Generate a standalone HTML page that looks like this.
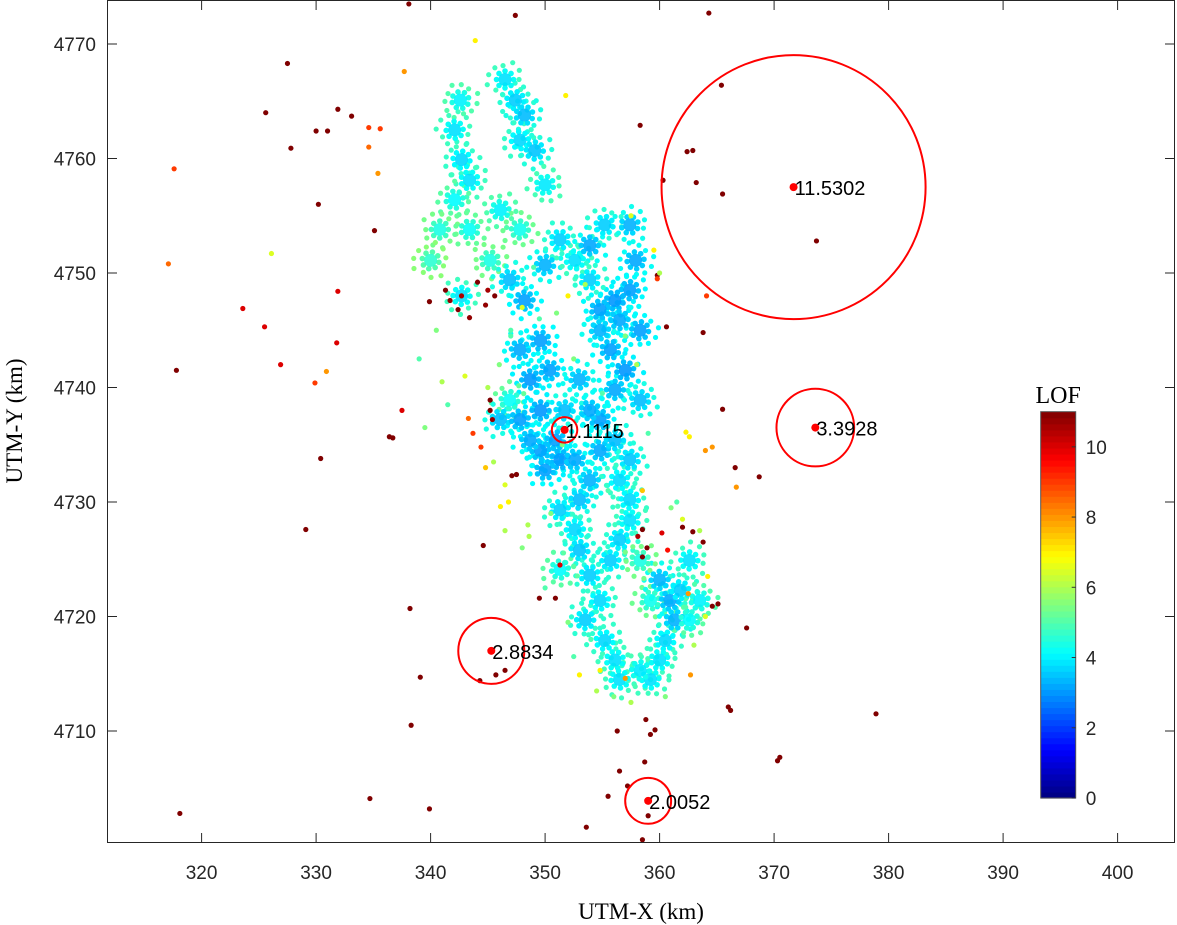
<!DOCTYPE html>
<html><head><meta charset="utf-8"><style>
html,body{margin:0;padding:0;background:#fff;}
svg{display:block;}
</style></head><body>
<svg id="chart" width="1177" height="925" viewBox="0 0 1177 925" xmlns="http://www.w3.org/2000/svg"></svg>
<script>
// ---- data ----
const xTicks = [320,330,340,350,360,370,380,390,400];
const yTicks = [4710,4720,4730,4740,4750,4760,4770];
const cbTicks = [0,2,4,6,8,10];
// dense cluster cores [x,y,lof]
const coreX = [346.5,347.4,348.2,347.8,349.1,350.0,342.6,342.1,342.7,343.4,342.1,340.8,340.0,343.4,346.1,347.8,345.2,346.9,348.2,350.0,351.3,352.6,353.9,355.2,
 357.4,357.9,357.4,356.1,354.8,356.5,358.3,355.7,357.0,356.1,358.3,353.9,354.8,
 347.8,349.6,350.4,348.7,346.9,346.1,347.8,349.6,350.9,351.3,349.6,348.7,350.0,352.6,353.9,353.0,354.8,354.8,356.1,357.4,356.5,353.0,351.7,353.9,
 351.3,352.6,353.0,353.9,354.8,353.5,355.2,356.1,356.5,357.4,357.4,359.2,360.0,360.9,361.3,361.8,362.6,360.5,360.0,359.2,358.3,362.6,363.5,355.7,356.5,358.3,351.3,342.7];
const coreY = [4766.9,4765.1,4763.8,4761.6,4760.7,4757.7,4765.1,4762.5,4759.9,4758.1,4756.4,4753.8,4751.1,4753.8,4755.5,4753.8,4751.1,4749.4,4747.6,4750.7,4752.9,4751.1,4752.4,4754.2,
 4754.2,4751.1,4748.5,4747.6,4746.8,4745.9,4745.0,4743.3,4741.5,4739.8,4738.9,4749.4,4745.0,
 4743.3,4744.1,4741.5,4740.7,4738.9,4737.2,4737.2,4738.0,4735.4,4733.7,4734.5,4735.4,4732.8,4733.7,4731.9,4730.2,4737.2,4734.5,4735.4,4733.7,4731.9,4740.7,4738.0,4738.0,
 4729.3,4727.6,4725.8,4723.6,4721.4,4719.7,4717.9,4716.2,4714.5,4730.2,4728.4,4721.4,4723.2,4721.4,4719.7,4722.3,4724.9,4717.9,4716.2,4714.5,4715.3,4719.7,4721.4,4724.9,4726.7,4724.9,4724.1,4748.0];
const coreV = [4.0,3.8,3.6,3.9,3.7,4.1,4.2,4.0,3.9,4.0,4.3,4.6,4.8,4.4,4.2,4.5,4.6,3.6,3.3,3.5,3.8,4.0,3.4,3.8,
 3.5,3.4,3.3,3.2,3.3,3.4,3.3,3.3,3.2,3.4,3.6,3.8,3.5,
 3.4,3.3,3.3,3.2,4.4,3.6,3.3,3.2,3.3,3.2,3.3,3.4,3.3,3.4,3.5,3.6,3.3,3.4,3.6,3.7,3.9,3.5,3.6,3.4,
 3.8,3.9,3.7,3.8,3.9,3.8,3.9,4.0,4.0,3.9,4.0,4.5,3.5,3.4,3.5,3.8,4.0,3.9,4.0,4.0,4.1,4.3,4.2,3.8,3.8,4.6,4.3,4.0];
// scattered points [x,y,lof]
const ptX = [338.1,347.4,364.3,327.5,325.6,331.9,333.1,330.0,331.0,327.8,330.2,335.1,365.4,358.3,362.9,362.4,363.2,365.5,360.3,373.7,317.8,336.4,336.7,330.4,329.1,338.2,339.1,338.3,318.1,334.7,339.9,353.6,358.5,355.5,357.2,359.0,358.7,359.2,359.6,356.3,370.5,370.3,378.9,366.0,366.2,365.1,364.6,367.6,366.6,368.7,365.5,363.8,360.6,359.8,346.5,345.7,344.3,344.6,349.5,350.9,347.5,347.1,
 341.7,342.4,342.7,341.3,343.4,339.9,344.1,345.0,345.6,344.8,345.2,345.2,345.4,
 358.5,360.2,360.7,358.9,362.0,362.9,363.8,358.5,358.1,
 317.6,317.1,326.1,323.6,325.5,326.9,329.9,330.9,331.8,331.9,334.6,335.6,335.4,334.6,337.7,343.9,351.8,337.5,366.7,364.0,364.6,362.3,362.6,359.8,364.1,353.0,354.8,357.0,362.7,362.5,351.3,343.7,343.3,344.4,346.8,346.1,
 345.0,346.0,347.0,348.0,352.0,353.5,351.0,349.0,357.5,359.5,360.0,361.5,362.0,358.5,345.5,346.5,352.5,355.0,350.5,348.5,363.0,364.0,356.0,354.5,340.5,339.0,341.0,343.0,
 347.0,349.5,351.5,355.5,357.0,358.0,359.0,361.0,363.5,364.2,354.0,352.0,350.0,348.0,346.5,360.5,357.5,352.5,348.6,344.8,341.5,339.5,356.5,358.8];
const ptY = [4773.5,4772.5,4772.7,4768.3,4764.0,4764.3,4763.7,4762.4,4762.4,4760.9,4756.0,4753.7,4766.4,4762.9,4760.7,4760.6,4757.9,4756.9,4758.1,4752.8,4741.5,4735.7,4735.6,4733.8,4727.6,4720.7,4714.7,4710.5,4702.8,4704.1,4703.2,4701.6,4700.5,4704.3,4705.2,4702.6,4707.3,4709.7,4710.1,4710.0,4707.7,4707.4,4711.5,4712.1,4711.8,4721.1,4720.9,4719.0,4733.0,4732.2,4738.1,4744.8,4745.3,4749.8,4715.3,4714.9,4714.4,4726.2,4721.6,4721.6,4732.4,4732.3,
 4747.6,4746.8,4748.0,4748.5,4746.1,4747.5,4749.2,4748.5,4748.0,4747.2,4738.9,4738.0,4737.2,
 4727.6,4727.3,4725.8,4726.0,4727.8,4727.4,4726.5,4725.2,4727.0,
 4759.1,4750.8,4751.7,4746.9,4745.3,4742.0,4740.4,4741.4,4743.9,4748.4,4762.7,4762.6,4758.7,4761.0,4767.6,4770.3,4765.5,4738.0,4731.3,4734.5,4734.8,4736.1,4735.7,4749.5,4748.0,4714.9,4715.3,4714.6,4714.9,4722.0,4724.5,4736.0,4737.3,4734.8,4730.0,4729.6,
 4740.0,4742.0,4745.0,4747.0,4748.0,4749.0,4746.5,4750.5,4755.0,4752.0,4750.0,4730.0,4728.5,4731.0,4733.5,4731.5,4742.5,4739.5,4729.0,4728.0,4717.5,4720.0,4713.0,4713.5,4745.0,4742.5,4740.5,4741.0,
 4744.5,4746.0,4735.0,4731.0,4744.5,4742.0,4736.0,4729.5,4727.5,4723.5,4718.0,4719.5,4722.5,4726.0,4727.5,4713.0,4712.5,4716.5,4727.0,4733.0,4738.5,4736.5,4706.5,4711.0];
const ptV = [11,11,11,11,11,11,11,11,11,11,11,11,11,11,11,11,11,11,11,11,11,11,11,11,11,11,11,11,11,11,11,11,11,11,11,11,11,11,11,11,11,11,11,11,11,11,11,11,11,11,11,11,11,11,11,11,11,11,11,11,11,11,
 10.8,11,10.5,11,10.8,11,11,10.6,11,10.8,11,11,10.7,
 11,10,9.5,11,11,11,11,11,10.5,
 9,8.5,6.5,10,10,10,9,8,10,10,9,9,8,8.5,8,7,7,10,8,8,8,7,7,9,9,7,7,8,8,8,10,9,8.5,9,7,7,
 6,5.5,5,6.5,7,6,5.5,5,6.5,7,6,5,6.5,7.5,6,6.5,5.5,5,5.5,6,6,6.5,5.5,6,5.5,5,6,6.5,
 5,5,5.5,5,5.5,6,5,5.5,6,7,5,5.5,5,5.5,6,5.5,6,5,6,7.5,5,5.5,11,11];
// highlighted outliers
const hlX = [371.7,373.6,351.7,345.3,359.0];
const hlY = [4757.5,4736.5,4736.3,4717.0,4703.9];
const hlV = [11.5302,3.3928,1.1115,2.8834,2.0052];
const hlLabel = ["11.5302","3.3928","1.1115","2.8834","2.0052"];

// ---- layout ----
const L=107,R=1175,T=0,B=843;
const X0=320, X0p=201.6, KM=11.45;
const sx = v => X0p + (v - X0)*KM;
const sy = v => 44 + (4770 - v)*KM;
const CB={x:1040.7,w:35,top:411.7,bot:798,max:11};
const cy = v => CB.bot - (v/CB.max)*(CB.bot-CB.top);
function jet(v){
  let t=Math.max(0,Math.min(1,v/11));
  const c=x=>Math.round(255*Math.max(0,Math.min(1,x)));
  return `rgb(${c(1.5-Math.abs(4*t-3))},${c(1.5-Math.abs(4*t-2))},${c(1.5-Math.abs(4*t-1))})`;
}
const NS="http://www.w3.org/2000/svg";
const svg=document.getElementById('chart');
function mk(tag,attrs,parent){const e=document.createElementNS(NS,tag);for(const k in attrs)e.setAttribute(k,attrs[k]);(parent||svg).appendChild(e);return e;}

const plot=mk('g',{});


const clip=mk('clipPath',{id:'pc'});mk('rect',{x:L,y:T,width:R-L,height:B-T},clip);
const marks=mk('g',{'clip-path':'url(#pc)'},plot);

coreX.forEach((x,i)=>{
  for(let k=0;k<11;k++){
    const a=k*2*Math.PI/11+i*0.7;
    const rr=14+((k*7+i)%4)*1.5;
    const d=mk('circle',{cx:sx(x)+Math.cos(a)*rr,cy:sy(coreY[i])+Math.sin(a)*rr,r:2.6,fill:jet(coreV[i]+0.8)},marks);
    
    
  }
});
coreX.forEach((x,i)=>{
  for(let k=0;k<8;k++){
    const a=k*Math.PI/4+i;
    const d=mk('circle',{cx:sx(x)+Math.cos(a)*8.5,cy:sy(coreY[i])+Math.sin(a)*8.5,r:2.8,fill:jet(coreV[i]+0.2)},marks);
    
    
  }
  const c=mk('circle',{cx:sx(x),cy:sy(coreY[i]),r:6.5,fill:jet(coreV[i]-0.2),opacity:0.9},marks);
  
  
});
ptX.forEach((x,i)=>{
  const c=mk('circle',{cx:sx(x),cy:sy(ptY[i]),r:2.6,fill:jet(ptV[i])},marks);
  
  
});
hlX.forEach((x,i)=>{
  const ring=mk('circle',{cx:sx(x),cy:sy(hlY[i]),r:hlV[i]*KM,fill:'none',stroke:'#ff0000','stroke-width':2},marks);
  
  
  const d=mk('circle',{cx:sx(x),cy:sy(hlY[i]),r:4,fill:'#ff0000'},marks);
  
  
  const t=mk('text',{x:sx(x)+1,y:sy(hlY[i])+8,'font-family':'Liberation Sans, sans-serif','font-size':20,fill:'#000'},marks);
  t.textContent=hlLabel[i];
  
  
});

const box=mk('rect',{x:L+0.5,y:T+0.5,width:R-L-1,height:B-T-1,fill:'none',stroke:'#262626','stroke-width':1});


xTicks.forEach(v=>{
  const x=sx(v);
  mk('line',{x1:x,x2:x,y1:B,y2:B-10,stroke:'#262626'});
  mk('line',{x1:x,x2:x,y1:T,y2:T+10,stroke:'#262626'});
  const t=mk('text',{x:x,y:B+36,'text-anchor':'middle','font-family':'Liberation Sans, sans-serif','font-size':19,fill:'#262626'});
  t.textContent=v;
  
  
});
yTicks.forEach(v=>{
  const y=sy(v);
  mk('line',{x1:L,x2:L+10,y1:y,y2:y,stroke:'#262626'});
  mk('line',{x1:R,x2:R-10,y1:y,y2:y,stroke:'#262626'});
  const t=mk('text',{x:96,y:y+7,'text-anchor':'end','font-family':'Liberation Sans, sans-serif','font-size':19,fill:'#262626'});
  t.textContent=v;
  
  
});
const xt=mk('text',{x:641,y:919,'text-anchor':'middle','font-family':'Liberation Serif, serif','font-size':23,fill:'#000'});
xt.textContent='UTM-X (km)';


const yt=mk('text',{x:22,y:421,'text-anchor':'middle','font-family':'Liberation Serif, serif','font-size':23,fill:'#000',transform:'rotate(-90 22 421)'});
yt.textContent='UTM-Y (km)';



const cb=mk('g',{});


const N=64;
for(let k=0;k<N;k++){
  const v0=k*CB.max/N,v1=(k+1)*CB.max/N;
  mk('rect',{x:CB.x,y:cy(v1),width:CB.w,height:cy(v0)-cy(v1)+0.6,fill:jet((v0+v1)/2)},cb);
}
mk('rect',{x:CB.x,y:CB.top,width:CB.w,height:CB.bot-CB.top,fill:'none',stroke:'#555','stroke-width':1},cb);
cbTicks.forEach(v=>{
  mk('line',{x1:CB.x+CB.w-4,x2:CB.x+CB.w,y1:cy(v),y2:cy(v),stroke:'#333'},cb);
  const t=mk('text',{x:CB.x+CB.w+10,y:cy(v)+7,'font-family':'Liberation Sans, sans-serif','font-size':19,fill:'#262626'},cb);
  t.textContent=v;
  
  
});
const ct=mk('text',{x:CB.x+CB.w/2,y:403,'text-anchor':'middle','font-family':'Liberation Serif, serif','font-size':24,fill:'#000'},cb);
ct.textContent='LOF';


</script>
</body></html>
